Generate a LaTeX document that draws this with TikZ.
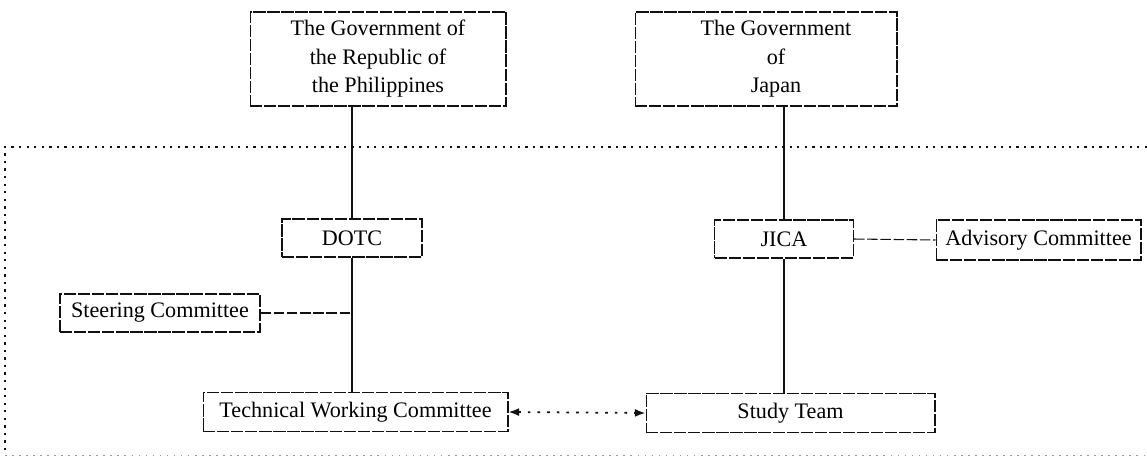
\documentclass[tikz,border=0pt]{standalone}
\usepackage{fontspec}
\setmainfont{Liberation Serif}
\usepackage{tikz}
\usetikzlibrary{arrows.meta, positioning, calc}
\definecolor{scanblack}{HTML}{111111}
\definecolor{scangray}{HTML}{9A9A9A}

\begin{document}
\begin{tikzpicture}[x=0.02cm, y=-0.02cm,
    orgbox/.style={draw=scanblack, line width=0.6pt, dash pattern=on 7pt off 1pt, align=center, inner sep=2pt, font=\fontsize{12.6}{16.2}\selectfont},
    solidlink/.style={line width=1.1pt, scanblack},
    dashlink/.style={line width=0.6pt, scanblack, dash pattern=on 6pt off 1.5pt}]
  \useasboundingbox (0,0) rectangle (1147,464);

  % outer dotted frame
  \draw[line width=1.3pt, dash pattern=on 1.3pt off 3pt, scanblack] (1147,147) -- (5,147) -- (5,455);
  \draw[line width=0.5pt, dash pattern=on 1pt off 3pt, scangray] (5,455) -- (1147,455);

  \node[orgbox, minimum width=5.12cm, minimum height=1.88cm] (govph) at (378,59) {The Government of\\the Republic of\\the Philippines};
  \node[orgbox, minimum width=5.24cm, minimum height=1.88cm] (govjp) at (766,59) {\hspace*{0.4cm}The Government\\\hspace*{0.4cm}of\\\hspace*{0.4cm}Japan};
  \node[orgbox, minimum width=2.8cm, minimum height=0.76cm] (dotc) at (352,238) {DOTC};
  \node[orgbox, minimum width=2.78cm, minimum height=0.76cm] (jica) at (784,239) {JICA};
  \node[orgbox, minimum width=4.1cm, minimum height=0.8cm] (advisory) at (1038.5,240) {Advisory Committee};
  \node[orgbox, minimum width=4cm, minimum height=0.76cm] (steering) at (160,313) {Steering Committee};
  \node[orgbox, minimum width=6.1cm, minimum height=0.78cm] (twc) at (355.5,412) {Technical Working Committee};
  \node[orgbox, minimum width=5.78cm, minimum height=0.78cm] (team) at (790.5,413) {Study Team};

  \draw[solidlink] (dotc.north |- govph.south) -- (dotc.north);
  \draw[solidlink] (dotc.south) -- (dotc.south |- twc.north);
  \draw[solidlink] (jica.north |- govjp.south) -- (jica.north);
  \draw[solidlink] (jica.south) -- (jica.south |- team.north);
  \draw[dashlink] (steering.east) -- (steering.east -| dotc.south);
  \draw[dashlink] (jica.east) -- (advisory.west);
  \draw[{Latex[length=6pt]}-{Latex[length=6pt]}, line width=1pt, dash pattern=on 1.5pt off 4pt, scanblack] (twc.east) -- (team.west);
\end{tikzpicture}
\end{document}
